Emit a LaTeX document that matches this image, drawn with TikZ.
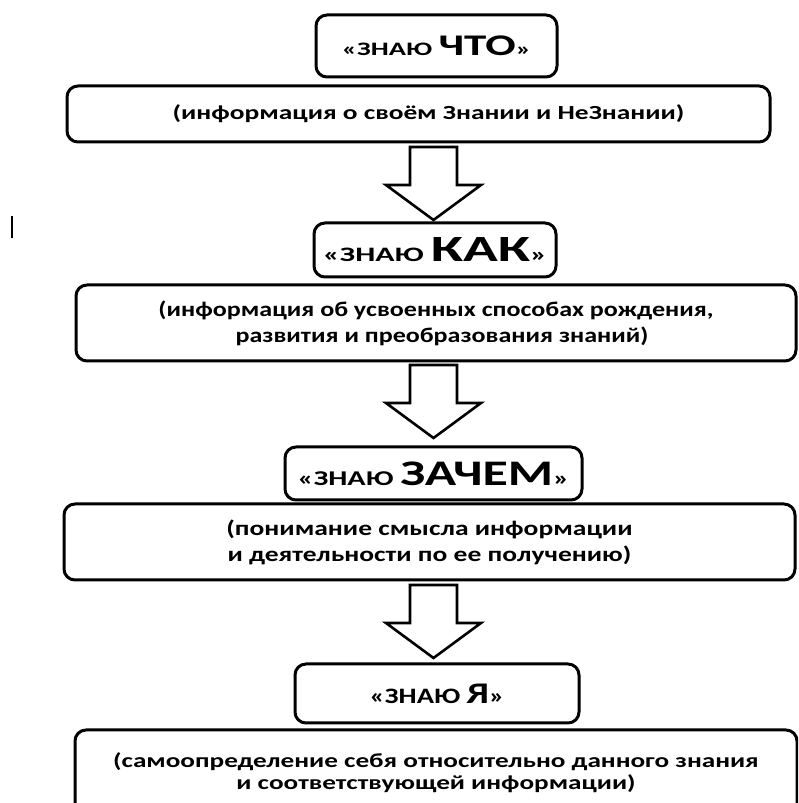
\documentclass[tikz,border=0pt]{standalone}
\usepackage{fontspec}
\setmainfont{Carlito}
\usetikzlibrary{calc}
\newcommand\sz[1]{\fontsize{#1}{#1}\selectfont}
\tikzset{
  box/.style={draw=black, line width=3pt, rounded corners=11pt, fill=white, align=center, inner sep=0pt},
  txt/.style n args={3}{font=\bfseries\fontsize{#1}{#2}\selectfont\addfontfeatures{FakeStretch=#3}},
  barrow/.style={draw=black, line width=2.6pt, fill=white, line join=miter},
}
\newcommand\blockarr[1]{%
  \draw[barrow] ($(#1)+(-23.5,0)$) -- ($(#1)+(-23.5,-38)$) -- ($(#1)+(-47.5,-38)$)
    -- ($(#1)+(0,-73)$) -- ($(#1)+(47.5,-38)$) -- ($(#1)+(23.5,-38)$) -- ($(#1)+(23.5,0)$) -- cycle;}
\begin{document}
\begin{tikzpicture}[x=1pt,y=1pt]
\useasboundingbox[fill=white] (0,0) rectangle (798,803);
\begin{scope}
\clip (0,0) rectangle (798,803);
\node[box, txt={19}{19}{1.5}, minimum width=241pt, minimum height=62pt] (b1) at (436.5,757)
  {«ЗНАЮ \sz{30}ЧТО\sz{19}»};
\node[box, txt={20}{22}{1.37}, minimum width=703pt, minimum height=56pt] (b2) at (418.5,689)
  {\hspace*{20pt}(информация о своём Знании и НеЗнании)};
\node[box, txt={20.5}{22}{1.55}, minimum width=242pt, minimum height=54pt] (b3) at (435,553)
  {«ЗНАЮ \sz{37}КАК\sz{20.5}»};
\node[box, txt={21}{26}{1.24}, minimum width=720pt, minimum height=76pt] (b4) at (436,480)
  {(информация об усвоенных способах рождения,\\ развития и преобразования знаний)\hspace*{-12pt}};
\node[box, txt={21}{21}{1.44}, minimum width=297pt, minimum height=53pt] (b5) at (433.5,329.5)
  {«ЗНАЮ \sz{36}ЗАЧЕМ\sz{21}»};
\node[box, txt={21}{26}{1.31}, minimum width=731pt, minimum height=76pt] (b6) at (429.5,261)
  {(понимание смысла информации\\ и деятельности по ее получению)};
\node[box, txt={22}{22}{1.3}, minimum width=284pt, minimum height=59pt] (b7) at (437,109.5)
  {«ЗНАЮ \sz{30}Я\sz{22}»};
\node[box, txt={20}{22}{1.36}, minimum width=722pt, minimum height=85pt] (b8) at (436,30.5)
  {(самоопределение себя относительно данного знания\\ и соответствующей информации)};
\coordinate (a1) at (433.5,656);
\coordinate (a2) at (433.5,438);
\coordinate (a3) at (433.5,218);
\blockarr{a1}
\blockarr{a2}
\blockarr{a3}
\coordinate (barT) at (12,587);
\coordinate (barB) at (12,565);
\draw[line width=2.5pt] (barT) -- (barB);
\end{scope}
\end{tikzpicture}
\end{document}
